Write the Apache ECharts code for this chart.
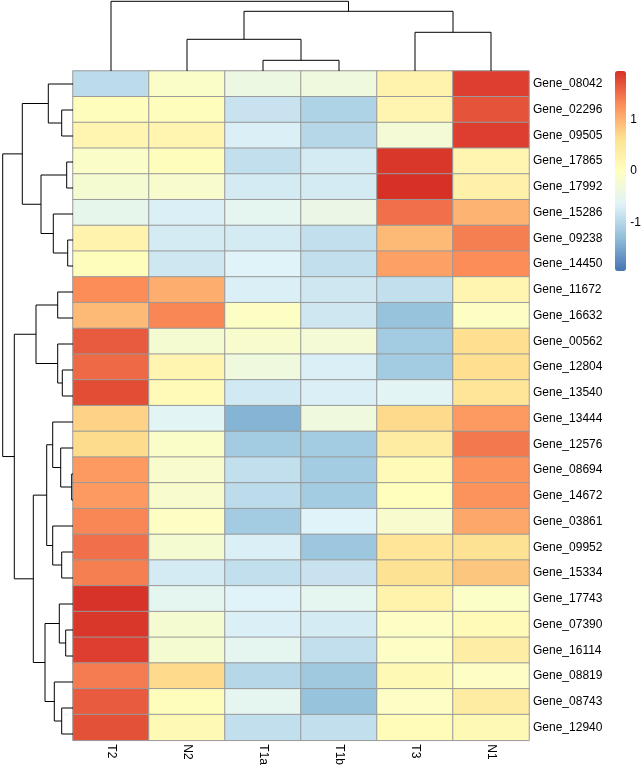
<!DOCTYPE html>
<html>
<head>
<meta charset="utf-8">
<script src="https://cdn.jsdelivr.net/npm/echarts@6/dist/echarts.min.js"></script>
<style>html,body{margin:0;padding:0;background:#fff;}#c{width:644px;height:768px;}</style>
</head>
<body>
<div id="c"></div>
<script>
const genes = ['Gene_08042','Gene_02296','Gene_09505','Gene_17865','Gene_17992','Gene_15286','Gene_09238','Gene_14450','Gene_11672','Gene_16632','Gene_00562','Gene_12804','Gene_13540','Gene_13444','Gene_12576','Gene_08694','Gene_14672','Gene_03861','Gene_09952','Gene_15334','Gene_17743','Gene_07390','Gene_16114','Gene_08819','Gene_08743','Gene_12940'];
const samples = ['T2','N2','T1a','T1b','T3','N1'];

const zT2  = [-0.95, 0.05, 0.2, -0.1, -0.2, -0.5, 0.25, 0.05, 1.3, 0.95, 1.65, 1.55, 1.75, 0.75, 0.68, 1.2, 1.2, 1.35, 1.5, 1.4, 1.93, 1.9, 1.85, 1.42, 1.65, 1.72];
const zN2  = [-0.1, 0.05, 0.2, 0.05, -0.15, -0.7, -0.75, -0.8, 1.05, 1.35, -0.2, 0.2, 0.1, -0.6, -0.1, -0.15, -0.15, -0.05, -0.2, -0.75, -0.55, -0.2, -0.2, 0.7, 0.05, 0.12];
const zT1a = [-0.4, -0.85, -0.7, -0.9, -0.75, -0.55, -0.75, -0.65, -0.7, -0.05, -0.15, -0.35, -0.78, -1.4, -1.15, -0.9, -0.95, -1.15, -0.7, -0.9, -0.65, -0.7, -0.55, -1.0, -0.55, -0.9];
const zT1b = [-0.35, -1.05, -1.0, -0.75, -0.75, -0.45, -0.9, -0.9, -0.8, -0.8, -0.25, -0.7, -0.7, -0.35, -1.15, -1.15, -1.15, -0.65, -1.2, -0.85, -0.55, -0.75, -0.9, -1.18, -1.25, -0.9];
const zT3  = [0.25, 0.2, -0.25, 1.9, 1.95, 1.5, 0.95, 1.15, -0.9, -1.25, -1.15, -1.15, -0.6, 0.7, 0.4, 0.1, 0.03, -0.15, 0.55, 0.6, 0.27, -0.07, -0.07, 0.13, -0.07, 0.08];
const zN1  = [1.85, 1.7, 1.85, 0.2, 0.3, 1.0, 1.4, 1.3, 0.2, -0.05, 0.65, 0.65, 0.55, 1.2, 1.45, 1.25, 1.25, 1.1, 0.6, 0.85, -0.08, 0.1, 0.38, -0.07, 0.4, 0.12];

// hclust-style merges: negative = leaf (1-based), positive = earlier merge (1-based); third = height
const rowMerges = [
  [-2,-3,11.3],[-1,1,24.7],[-4,-5,6.3],[-7,-8,5.3],[-6,4,19.7],[3,5,32],[2,6,50.7],
  [-9,-10,15.3],[-12,-13,10.7],[-11,9,15.3],[8,10,37],
  [-16,-17,1.3],[-15,12,12.3],[-14,13,20.3],[-19,-20,11.3],[-18,15,20.3],[14,16,26.3],
  [-22,-23,7.3],[-21,18,13.7],[-25,-26,11.3],[-24,20,18.7],[19,21,28],[17,22,39.7],
  [11,23,58.7],[7,24,70.3]
];
const colMerges = [[-3,-4,10.7],[-2,1,31.7],[-5,-6,38.7],[2,3,59.7],[-1,4,69.7]];

const legendTicks = [-1, 0, 1];
const zLimit = 1.95;
const palette = ['#4575B4','#91BFDB','#E0F3F8','#FFFFBF','#FEE090','#FC8D59','#D73027'];

const cols = [zT2, zN2, zT1a, zT1b, zT3, zN1];
const heatData = [];
cols.forEach((arr, ci) => arr.forEach((v, ri) => heatData.push([ci, ri, v])));

function dendro(merges, horizontal) {
  const pos = [], hgt = [];
  const get = (id) => id < 0 ? {p: -id - 1 + 0.5, h: 0} : {p: pos[id - 1], h: hgt[id - 1]};
  const out = [];
  merges.forEach((m, k) => {
    const a = get(m[0]), b = get(m[1]), h = m[2];
    pos[k] = (a.p + b.p) / 2; hgt[k] = h;
    const pts = horizontal
      ? [[a.h, a.p], [h, a.p], [h, b.p], [b.h, b.p]]
      : [[a.p, a.h], [a.p, h], [b.p, h], [b.p, b.h]];
    out.push({coords: pts});
  });
  return out;
}

const hidden = {show: false};
const chart = echarts.init(document.getElementById('c'), null, {renderer: 'canvas'});
chart.setOption({
  backgroundColor: '#fff',
  animation: false,
  grid: [
    {left: 73, top: 71, width: 456, height: 676},
    {left: 0, top: 71, width: 73, height: 676},
    {left: 73, top: 0, width: 456, height: 71},
    {left: 615, top: 71, width: 11, height: 200}
  ],
  xAxis: [
    {gridIndex: 0, type: 'category', data: samples, position: 'bottom',
     axisLine: hidden, axisTick: hidden, splitLine: hidden,
     axisLabel: {rotate: -90, margin: 4, fontSize: 12, color: '#000', fontFamily: 'Liberation Sans, Arial'}},
    {gridIndex: 1, type: 'value', min: 0, max: 73, inverse: true, show: false},
    {gridIndex: 2, type: 'value', min: 0, max: 6, show: false},
    {gridIndex: 3, type: 'value', min: 0, max: 1, show: false}
  ],
  yAxis: [
    {gridIndex: 0, type: 'category', data: genes, inverse: true, position: 'right',
     axisLine: hidden, axisTick: hidden, splitLine: hidden,
     axisLabel: {margin: 4, fontSize: 12, color: '#000', fontFamily: 'Liberation Sans, Arial'}},
    {gridIndex: 1, type: 'value', min: 0, max: 26, inverse: true, show: false},
    {gridIndex: 2, type: 'value', min: 0, max: 71, show: false},
    {gridIndex: 3, type: 'value', min: -zLimit, max: zLimit, position: 'right',
     axisLine: hidden, axisTick: hidden, splitLine: hidden,
     axisLabel: {customValues: legendTicks, margin: 7, fontSize: 12, color: '#000', fontFamily: 'Liberation Sans, Arial'}}
  ],
  visualMap: {
    type: 'continuous', seriesIndex: 0, min: -zLimit, max: zLimit,
    inRange: {color: palette}, calculable: false, hoverLink: false,
    left: 615, top: 71, itemWidth: 11, itemHeight: 200, padding: 0, text: null,
    orient: 'vertical'
  },
  series: [
    {type: 'heatmap', xAxisIndex: 0, yAxisIndex: 0, data: heatData, silent: true,
     itemStyle: {borderColor: '#999', borderWidth: 1}},
    {type: 'lines', coordinateSystem: 'cartesian2d', xAxisIndex: 1, yAxisIndex: 1, polyline: true,
     silent: true, data: dendro(rowMerges, true), lineStyle: {color: '#000', width: 1, opacity: 1}},
    {type: 'lines', coordinateSystem: 'cartesian2d', xAxisIndex: 2, yAxisIndex: 2, polyline: true,
     silent: true, data: dendro(colMerges, false), lineStyle: {color: '#000', width: 1, opacity: 1}}
  ]
});
</script>
</body>
</html>
